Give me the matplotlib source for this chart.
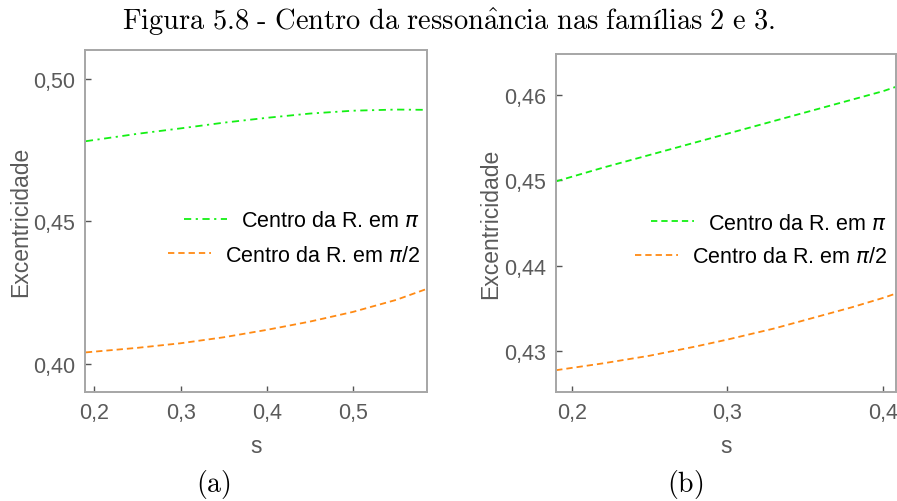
import matplotlib
matplotlib.use("Agg")
import matplotlib.pyplot as plt
from matplotlib.lines import Line2D

# Panel (a)
s_a = [0.19, 0.25, 0.30, 0.35, 0.40, 0.45, 0.50, 0.55, 0.586]
e_pi_a = [0.4780, 0.4806, 0.4825, 0.4845, 0.4862, 0.4877, 0.4887, 0.4891, 0.4890]
e_pi2_a = [0.4039, 0.4055, 0.4071, 0.4092, 0.4118, 0.4147, 0.4181, 0.4223, 0.4262]

# Panel (b)
s_b = [0.19, 0.22, 0.25, 0.28, 0.30, 0.33, 0.35, 0.38, 0.40, 0.408]
e_pi_b = [0.4499, 0.4515, 0.4530, 0.4545, 0.4555, 0.4570, 0.4580, 0.4595, 0.4605, 0.4610]
e_pi2_b = [0.4277, 0.4285, 0.4294, 0.4305, 0.4313, 0.4326, 0.4336, 0.4351, 0.4362, 0.4367]

xticks_a = [0.2, 0.3, 0.4, 0.5]
yticks_a = [0.40, 0.45, 0.50]
xticks_b = [0.2, 0.3, 0.4]
yticks_b = [0.43, 0.44, 0.45, 0.46]

lbl_pi = r"Centro da R. em $\pi$"
lbl_pi2 = r"Centro da R. em $\pi$/2"
title = (r"$\mathrm{Figura\ 5.8\ }\text{-}\mathrm{\ Centro\ da\ resson\^{a}ncia\ nas\ "
         r"fam}\text{í}\mathrm{lias\ 2\ e\ 3.}$")

GREEN = "#14f014"
ORANGE = "#ff8a14"
SPINE = "#a6a6a6"
TXT = "#5a5a5a"

plt.rcParams["font.family"] = ["Liberation Sans", "DejaVu Sans"]
plt.rcParams["mathtext.fontset"] = "dejavusans"

W, H = 897, 502
fig = plt.figure(figsize=(W / 100, H / 100), dpi=100)

ax1 = fig.add_axes([85 / W, 1 - 393 / H, 342 / W, 342 / H])
ax2 = fig.add_axes([555.7 / W, 1 - 393.3 / H, 340 / W, 338.6 / H])

dashdot = (0, (4, 2.5, 1.2, 2.5))
dashed = (0, (3.5, 2.2))

ax1.plot(s_a, e_pi_a, color=GREEN, lw=1.3, linestyle=dashdot)
ax1.plot(s_a, e_pi2_a, color=ORANGE, lw=1.3, linestyle=dashed)
ax2.plot(s_b, e_pi_b, color=GREEN, lw=1.3, linestyle=dashed)
ax2.plot(s_b, e_pi2_b, color=ORANGE, lw=1.3, linestyle=dashed)

ax1.set_xlim(0.189, 0.586)
ax1.set_ylim(0.390, 0.510)
ax2.set_xlim(0.1897, 0.408)
ax2.set_ylim(0.4251, 0.4649)


def fmt(v, nd):
    return f"{v:.{nd}f}".replace(".", ",")


for ax, xt, yt, xd, yd in [(ax1, xticks_a, yticks_a, 1, 2), (ax2, xticks_b, yticks_b, 1, 2)]:
    ax.set_xticks(xt)
    ax.set_xticklabels([fmt(v, xd) for v in xt])
    ax.set_yticks(yt)
    ax.set_yticklabels([fmt(v, yd) for v in yt])
    ax.tick_params(direction="in", length=4, width=1, color="#555555",
                   labelsize=15.5, labelcolor=TXT, pad=7, top=False, right=False)
    for sp in ax.spines.values():
        sp.set_color(SPINE)
        sp.set_linewidth(1.4)
    ax.set_xlabel("s", fontsize=16.5, color=TXT, labelpad=8)
    ax.set_ylabel("Excentricidade", fontsize=16.5, color=TXT, labelpad=1)


def two_legends(ax, style_pi, xr, y1, y2):
    h1 = [Line2D([], [], color=GREEN, lw=1.3, linestyle=style_pi)]
    h2 = [Line2D([], [], color=ORANGE, lw=1.3, linestyle=dashed)]
    kw = dict(frameon=False, fontsize=15.5, handlelength=2.0, handletextpad=0.65,
              borderpad=0, borderaxespad=0, loc="center right")
    l1 = ax.legend(h1, [lbl_pi], bbox_to_anchor=(xr, y1), **kw)
    ax.add_artist(l1)
    ax.legend(h2, [lbl_pi2], bbox_to_anchor=(xr, y2), **kw)


two_legends(ax1, dashdot, 0.98, 0.50, 0.40)
two_legends(ax2, dashed, 0.975, 0.50, 0.40)

fig.text(0.5, 1 - 22 / H, title, ha="center", va="center", fontsize=20.5,
         math_fontfamily="cm")
fig.text(213 / W, 1 - 485 / H, r"$\mathrm{(a)}$", ha="center", va="center",
         fontsize=20, math_fontfamily="cm")
fig.text(685 / W, 1 - 485 / H, r"$\mathrm{(b)}$", ha="center", va="center",
         fontsize=20, math_fontfamily="cm")

fig.savefig("out.png", dpi=100)
